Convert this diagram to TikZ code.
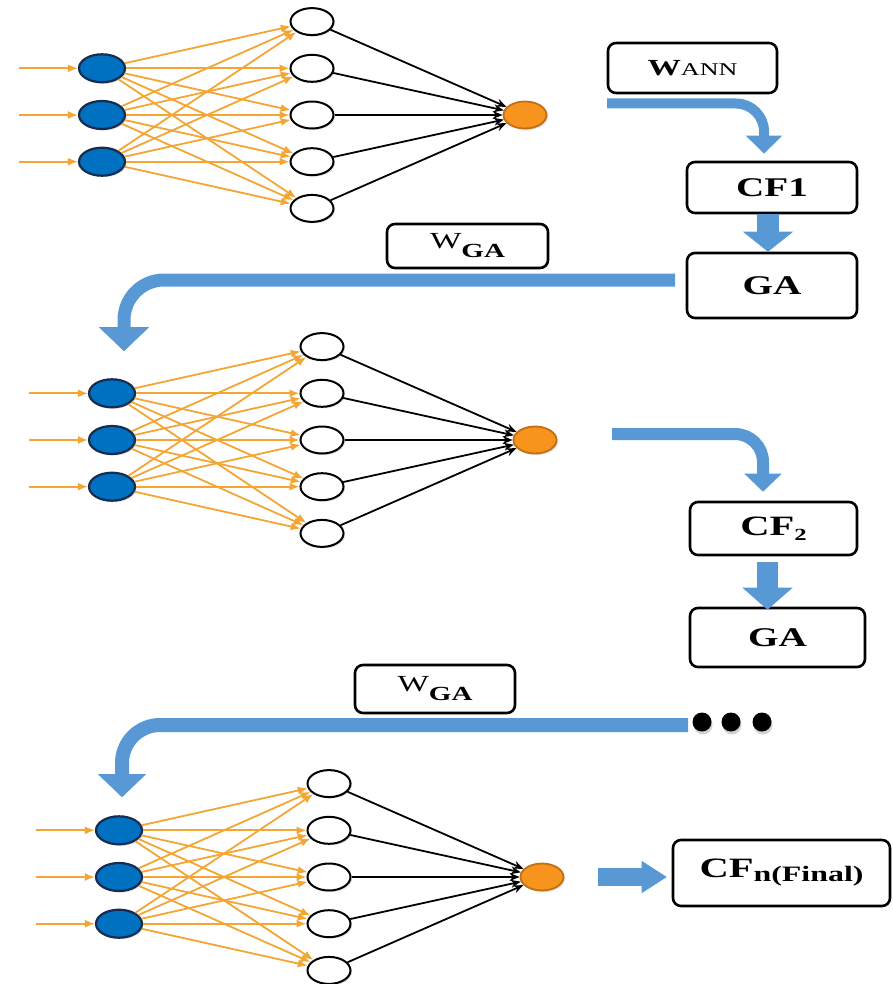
\documentclass[tikz,border=0pt]{standalone}
\usepackage{fontspec}
\setmainfont{Liberation Serif}
\usepackage{graphicx}
\usetikzlibrary{positioning,shapes.geometric,arrows.meta,shadows}

\definecolor{inblue}{RGB}{0,112,192}
\definecolor{inedge}{RGB}{22,44,80}
\definecolor{outorange}{RGB}{247,148,29}
\definecolor{outedge}{RGB}{196,110,20}
\definecolor{wireorange}{RGB}{243,166,52}
\definecolor{barblue}{RGB}{88,152,212}
\newcommand{\wide}[1]{\scalebox{1.45}[1]{#1}}
\newcommand{\fs}[1]{\fontsize{#1}{#1}\selectfont}

\begin{document}
\begin{tikzpicture}[x=1pt,y=-1pt,
      innode/.style={ellipse,draw=inedge,line width=2.2pt,fill=inblue,minimum width=46pt,minimum height=28pt,inner sep=0pt,
        drop shadow={opacity=0.25,shadow xshift=1.5pt,shadow yshift=-1.5pt}},
      hidnode/.style={ellipse,draw=black,line width=2pt,fill=white,minimum width=43pt,minimum height=27pt,inner sep=0pt,
        drop shadow={opacity=0.25,shadow xshift=1.5pt,shadow yshift=-1.5pt}},
      outnode/.style={ellipse,draw=outedge,line width=1.8pt,fill=outorange,minimum width=43pt,minimum height=27pt,inner sep=0pt,
        drop shadow={opacity=0.25,shadow xshift=1.5pt,shadow yshift=-1.5pt}},
      dotnode/.style={circle,fill=black,minimum size=19pt,inner sep=0pt,
        drop shadow={opacity=0.35,shadow xshift=1pt,shadow yshift=-3pt}},
      wire/.style={wireorange,line width=1.8pt,-{Latex[length=10pt,width=8pt]}},
      feed/.style={black,line width=1.8pt,-{Stealth[length=10pt,width=8pt]}},
      box/.style={draw=black,line width=2.6pt,rounded corners=8pt,inner sep=0pt,fill=white},
      blockarr/.style={draw=barblue,line cap=butt}
      ]
      \fill[white] (0,0) rectangle (892,984);
      \useasboundingbox (0,0) rectangle (892,984);

      % the three networks
      \foreach \k/\x/\y in {1/102/115, 2/112/440, 3/119/877}{
        \foreach \i in {1,2,3}{
          \node (in\k-\i) [innode] at ({\x},{\y+(\i-2)*46.7}) {};
          \coordinate (src\k-\i) at ({\x-83},{\y+(\i-2)*46.7});
          \draw[wire] (src\k-\i) -- (in\k-\i);
        }
        \foreach \j in {1,...,5}
          \node (h\k-\j) [hidnode] at ({\x+210},{\y+(\j-3)*46.7}) {};
        \node (out\k) [outnode] at ({\x+423},{\y}) {};
        \foreach \i in {1,2,3}
          \foreach \j in {1,...,5}
            \draw[wire] (in\k-\i) -- (h\k-\j);
        \foreach \j in {1,...,5}
          \draw[feed] (h\k-\j) -- (out\k);
      }

      % boxes
      \node (wann) [box,minimum width=169pt,minimum height=50pt] at (692.5,68) {\wide{\fs{23}\textbf{W}\fs{18}ANN}};
      \node (cf1)  [box,minimum width=170pt,minimum height=51pt] at (772,187.5) {\wide{\fs{27}\textbf{CF1}}};
      \node (ga1)  [box,minimum width=170pt,minimum height=65pt] at (772,285.5) {\wide{\fs{27}\textbf{GA}}};
      \node (wga1) [box,minimum width=161pt,minimum height=44pt] at (467.5,246) {\wide{\fs{23}W\raisebox{-9pt}{\fs{20}\textbf{GA}}}};
      \node (cf2)  [box,minimum width=167pt,minimum height=53pt] at (773.5,528.5) {\wide{\fs{28}\textbf{CF}\raisebox{-5pt}{\fs{17}\textbf{2}}}};
      \node (ga2)  [box,minimum width=175pt,minimum height=59pt] at (777.5,637.5) {\wide{\fs{27}\textbf{GA}}};
      \node (wga2) [box,minimum width=160pt,minimum height=48pt] at (435,689) {\wide{\fs{23}W\raisebox{-9pt}{\fs{20}\textbf{GA}}}};
      \node (cfn)  [box,minimum width=217pt,minimum height=66pt] at (781.5,873) {\wide{\fs{28}\textbf{CF}\raisebox{-4pt}{\fs{22}\textbf{n(Final)}}}};

      \node (dot1) [dotnode] at (702,722) {};
      \node (dot2) [dotnode] at (731,722) {};
      \node (dot3) [dotnode] at (762,722) {};

      % block arrows
      \coordinate (wtail) at (607,103.5);
      \coordinate (gtail) at (675,280);
      \coordinate (ntail) at (612,434);
      \coordinate (dtail) at (688,725);
      \coordinate (ftail) at (598,877);
      \draw[blockarr,line width=10pt,rounded corners=28pt,-{Triangle[width=36pt,length=18pt,line width=1pt]},shorten >=7pt]
        (wtail) -| ([xshift=-8pt]cf1.north);
      \draw[blockarr,line width=22pt,-{Triangle[width=50pt,length=20pt,line width=1pt]}]
        ([xshift=-4pt]cf1.south) -- ([xshift=-4pt]ga1.north);
      \draw[blockarr,line width=13pt,rounded corners=40pt,-{Triangle[width=50pt,length=24pt,line width=1pt]},shorten >=27pt]
        (gtail) -| ([xshift=12pt]in2-1.north);
      \draw[blockarr,line width=12pt,rounded corners=28pt,-{Triangle[width=37pt,length=18pt,line width=1pt]},shorten >=9pt]
        (ntail) -| ([xshift=-10.5pt]cf2.north);
      \draw[blockarr,line width=21pt,-{Triangle[width=50pt,length=22pt,line width=1pt]},shorten <=6pt,shorten >=-3pt]
        ([xshift=-6pt]cf2.south) -- ([xshift=-6pt]cf2.south |- ga2.north);
      \draw[blockarr,line width=14pt,rounded corners=38pt,-{Triangle[width=48pt,length=23pt,line width=1pt]},shorten >=18pt]
        (dtail) -| ([xshift=3pt]in3-1.north);
      \draw[blockarr,line width=18pt,-{Triangle[width=32pt,length=25pt,line width=1pt]},shorten >=5pt]
        (ftail) -- (ftail -| cfn.west);
\end{tikzpicture}
\end{document}
